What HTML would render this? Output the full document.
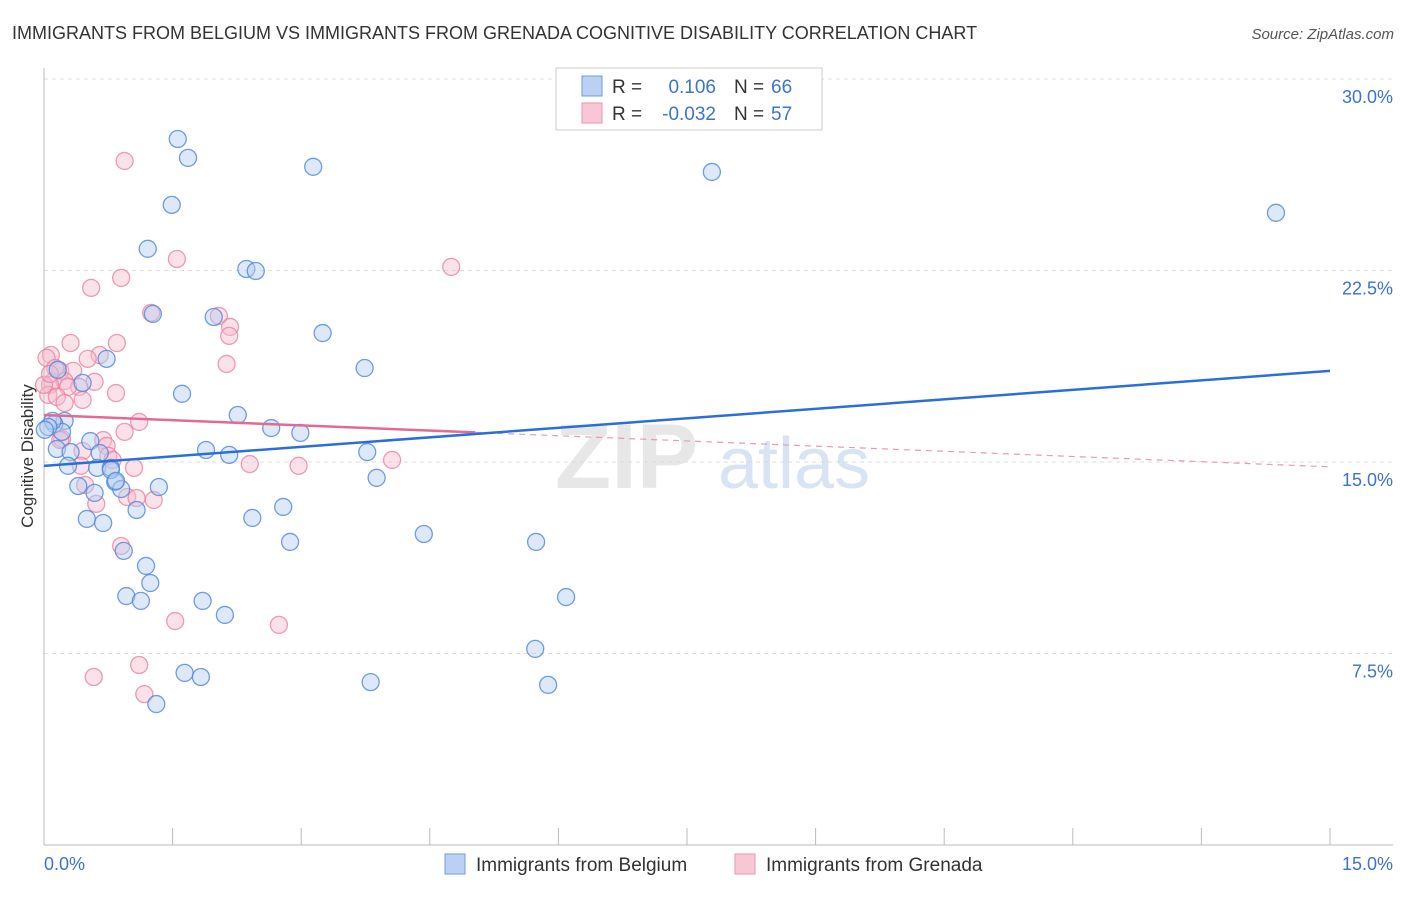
<!DOCTYPE html>
<html><head><meta charset="utf-8"><style>
body{margin:0;background:#fff;font-family:"Liberation Sans",sans-serif;}
svg text{font-family:"Liberation Sans",sans-serif;}
</style></head><body>
<svg id="chart" width="1406" height="892" viewBox="0 0 1406 892" xmlns="http://www.w3.org/2000/svg">
<text x="12" y="39" font-size="18" fill="#333">IMMIGRANTS FROM BELGIUM VS IMMIGRANTS FROM GRENADA COGNITIVE DISABILITY CORRELATION CHART</text>
<text x="1394" y="39" font-size="15" fill="#555" text-anchor="end" font-style="italic">Source: ZipAtlas.com</text>
<g id="grid"></g>
<text x="555" y="488" font-size="92" fill="#ddd" font-family="Liberation Serif" font-weight="bold" opacity="0.7">ZIP</text>
<text x="718" y="488" font-size="72" fill="#c8d8ee" opacity="0.7">atlas</text>
<g id="axes"></g>
<g id="points"></g>
<g id="trends"></g>
<text transform="translate(33,456) rotate(-90)" font-size="17" fill="#333" text-anchor="middle">Cognitive Disability</text>
<g>
<rect x="556" y="68" width="266" height="62" fill="#fff" stroke="#ccc"/>
<rect x="582" y="76" width="20" height="20" fill="#b9d1f3" stroke="#6e9be0"/>
<rect x="582" y="103" width="20" height="20" fill="#f9c6d6" stroke="#e996b4"/>
<text x="612" y="93" font-size="19" fill="#333">R =</text>
<text x="716" y="93" font-size="19" fill="#3b73d1" text-anchor="end">0.106</text>
<text x="734" y="93" font-size="19" fill="#333">N =</text>
<text x="771" y="93" font-size="19" fill="#3b73d1">66</text>
<text x="612" y="120" font-size="19" fill="#333">R =</text>
<text x="716" y="120" font-size="19" fill="#3b73d1" text-anchor="end">-0.032</text>
<text x="734" y="120" font-size="19" fill="#333">N =</text>
<text x="771" y="120" font-size="19" fill="#3b73d1">57</text>
</g>
<g>
<rect x="445" y="854" width="20" height="20" fill="#b9d1f3" stroke="#6e9be0"/>
<text x="476" y="871" font-size="19" fill="#333">Immigrants from Belgium</text>
<rect x="735" y="854" width="20" height="20" fill="#f9c6d6" stroke="#e996b4"/>
<text x="766" y="871" font-size="19" fill="#333">Immigrants from Grenada</text>
</g>
</svg>
<script>
const yTicks=[7.5,15,22.5,30];
const yTickLabels=["7.5%","15.0%","22.5%","30.0%"];
const xTickLabels=["0.0%","15.0%"];
const belgiumX=[1.56,1.68,3.14,7.79,14.37,1.49,1.21,2.36,2.47,1.27,1.98,3.25,0.73,3.74,0.16,0.45,1.61,2.26,0.24,0.12,2.65,2.99,0.54,0.21,0.15,0.31,1.89,2.16,3.77,0.65,0.28,0.62,0.78,3.88,0.40,0.83,0.90,1.34,0.59,2.79,1.08,0.50,0.69,2.43,4.43,5.74,2.87,0.93,1.19,1.24,0.96,1.13,1.85,6.09,2.11,5.73,1.64,1.83,3.81,5.88,1.31,0.78,0.10,0.05,0.01,0.84];
const belgiumY=[27.65,26.91,26.56,26.36,24.76,25.07,23.35,22.56,22.48,20.80,20.68,20.05,19.04,18.68,18.61,18.10,17.67,16.84,16.61,16.49,16.33,16.14,15.82,16.18,15.51,15.39,15.47,15.28,15.39,15.35,14.85,14.77,14.77,14.38,14.06,14.22,13.94,14.02,13.79,13.24,13.12,12.77,12.61,12.81,12.18,11.87,11.87,11.52,10.93,10.26,9.75,9.56,9.56,9.71,9.01,7.68,6.74,6.58,6.38,6.27,5.52,14.69,16.61,16.37,16.26,14.26];
const grenadaX=[0.94,1.55,4.75,0.55,0.90,1.25,2.04,2.17,2.16,0.31,0.85,0.08,0.03,0.65,0.51,2.13,0.19,0.34,0.10,0.24,0.59,0.07,0.41,0.28,0.05,0.84,0.15,0.45,0.24,1.11,0.94,0.69,0.21,0.73,0.45,0.75,0.80,2.40,2.97,4.06,1.05,0.43,0.48,0.97,1.08,1.28,0.61,0.90,1.53,2.74,1.11,0.58,1.17,0.19,0.00,0.13,0.07];
const grenadaY=[26.79,22.95,22.64,21.82,22.21,20.84,20.72,20.29,19.94,19.66,19.66,19.19,19.08,19.19,19.04,18.84,18.57,18.57,18.14,18.17,18.14,18.02,17.94,17.94,17.63,17.70,17.55,17.43,17.31,16.57,16.18,15.86,15.90,15.63,15.43,15.24,15.08,14.92,14.85,15.08,14.77,14.85,14.10,13.63,13.59,13.51,13.36,11.71,8.77,8.62,7.05,6.58,5.91,15.86,18.02,18.68,18.45];
const belgiumTrend=[14.85,18.57];
const grenadaTrend=[16.84,14.81];
const grenadaSolidEnd=5.03;

const NS="http://www.w3.org/2000/svg";
const X0=44,X1=1330,Y0=845,Y30=79;
const sx=v=>X0+(X1-X0)*v/15;
const sy=v=>Y0-(Y0-Y30)*v/30;
function mk(tag,attrs,parent){const e=document.createElementNS(NS,tag);for(const k in attrs)e.setAttribute(k,attrs[k]);parent.appendChild(e);return e;}
const grid=document.getElementById('grid'),axes=document.getElementById('axes'),pts=document.getElementById('points'),tr=document.getElementById('trends');
yTicks.forEach((t,i)=>{
 const l=mk('line',{x1:X0,x2:1393,y1:sy(t),y2:sy(t),stroke:'#ddd','stroke-dasharray':'4,4'},grid);
 
 
 const tx=mk('text',{x:1393,y:sy(t)+24,'font-size':18,fill:'#3b73d1','text-anchor':'end'},axes);
 tx.textContent=yTickLabels[i];
 
 
});
const ax=mk('line',{x1:X0,x2:1393,y1:Y0,y2:Y0,stroke:'#bbb'},axes);


const ay=mk('line',{x1:X0,x2:X0,y1:68,y2:Y0,stroke:'#bbb'},axes);


for(let i=0;i<=10;i++){
 const t=mk('line',{x1:sx(i*1.5),x2:sx(i*1.5),y1:828,y2:Y0,stroke:'#bbb'},axes);
 
 
}
const xl0=mk('text',{x:44,y:870,'font-size':18,fill:'#3b73d1'},axes);xl0.textContent=xTickLabels[0];


const xl1=mk('text',{x:1393,y:870,'font-size':18,fill:'#3b73d1','text-anchor':'end'},axes);xl1.textContent=xTickLabels[1];


function drawPts(xs,ys,fill,stroke,name){
 xs.forEach((x,i)=>{
  const c=mk('circle',{cx:sx(x),cy:sy(ys[i]),r:8.5,fill:fill,'fill-opacity':0.45,stroke:stroke,'stroke-width':1.3,'stroke-opacity':0.8},pts);
  
  
 });
}
drawPts(grenadaX,grenadaY,'#f6bcd0','#e8849f','grenada-point');
drawPts(belgiumX,belgiumY,'#b3cdf2','#4f86d8','belgium-point');
const gv=x=>grenadaTrend[0]+(grenadaTrend[1]-grenadaTrend[0])*x/15;
const gd=mk('line',{x1:sx(grenadaSolidEnd),y1:sy(gv(grenadaSolidEnd)),x2:sx(15),y2:sy(grenadaTrend[1]),stroke:'#e899b5','stroke-width':1.2,'stroke-dasharray':'6,5'},tr);


const gs=mk('line',{x1:sx(0),y1:sy(grenadaTrend[0]),x2:sx(grenadaSolidEnd),y2:sy(gv(grenadaSolidEnd)),stroke:'#e26a95','stroke-width':2.5},tr);


const bl=mk('line',{x1:sx(0),y1:sy(belgiumTrend[0]),x2:sx(15),y2:sy(belgiumTrend[1]),stroke:'#2a6fd6','stroke-width':2.5},tr);


</script>
</body></html>
